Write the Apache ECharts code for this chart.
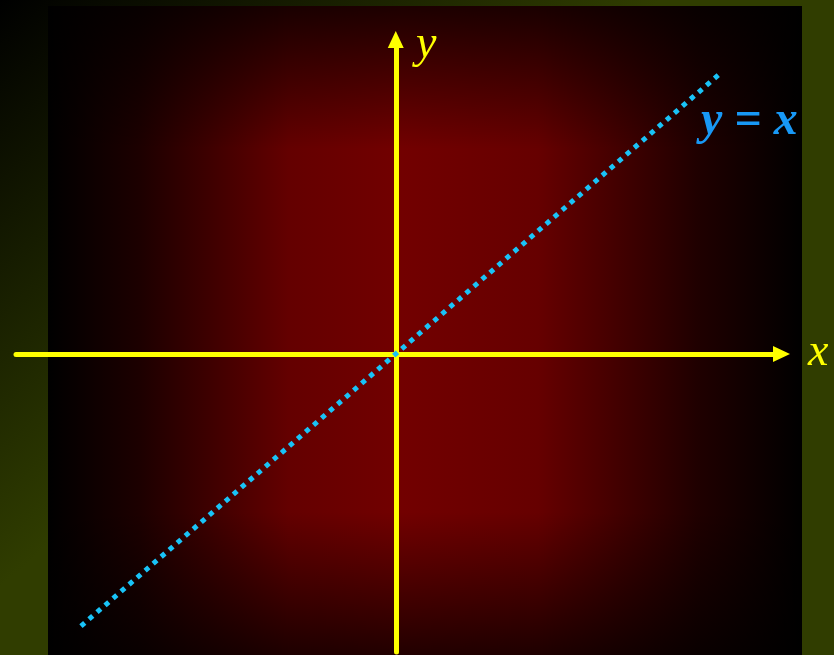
<!DOCTYPE html>
<html>
<head>
<meta charset="utf-8">
<script src="https://cdn.jsdelivr.net/npm/echarts@6/dist/echarts.min.js"></script>
<style>
  html, body { margin: 0; padding: 0; }
  #chart { width: 834px; height: 655px; }
</style>
</head>
<body>
<div id="chart"></div>
<script>
// axis ranges (units of the picture)
const xRange = [-3.8, 3.86];
const yRange = [-3.45, 3.64];
// the line y = x, drawn between two x values
const lineX = [-3.15, 3.25];
const lineY = [-3.15, 3.25];

(function() {
  let myChart = echarts.init(document.getElementById('chart'))
  let lineData = lineX.map((x, i) => [x, lineY[i]])
  let option = {
    backgroundColor: new echarts.graphic.LinearGradient(0, 0, 0.35, 0.5, [
      { offset: 0, color: '#000000' },
      { offset: 1, color: '#303d00' }
    ]),
    animation: false,
    graphic: [
      // dark red panel: horizontal glow
      {
        type: 'rect',
        z: -10,
        silent: true,
        shape: { x: 48, y: 6, width: 754, height: 649 },
        style: {
          fill: new echarts.graphic.LinearGradient(0, 0, 1, 0, [
            { offset: 0, color: '#000000' },
            { offset: 0.12, color: '#1c0000' },
            { offset: 0.32, color: '#640000' },
            { offset: 0.47, color: '#720000' },
            { offset: 0.65, color: '#660000' },
            { offset: 0.86, color: '#200000' },
            { offset: 1, color: '#000000' }
          ])
        }
      },
      // darken top and bottom
      {
        type: 'rect',
        z: -9,
        silent: true,
        shape: { x: 48, y: 6, width: 754, height: 649 },
        style: {
          fill: new echarts.graphic.LinearGradient(0, 0, 0, 1, [
            { offset: 0, color: 'rgba(0,0,0,0.75)' },
            { offset: 0.22, color: 'rgba(0,0,0,0)' },
            { offset: 0.78, color: 'rgba(0,0,0,0)' },
            { offset: 1, color: 'rgba(0,0,0,0.7)' }
          ])
        }
      },
      {
        type: 'text',
        left: 416, top: 22,
        style: { text: 'y', fill: '#ffff00', font: 'italic 46px "Liberation Serif", serif' }
      },
      {
        type: 'text',
        left: 808, top: 330,
        style: { text: 'x', fill: '#ffff00', font: 'italic 46px "Liberation Serif", serif' }
      },
      {
        type: 'text',
        left: 701, top: 98,
        style: { text: 'y = x', fill: '#1898f5', font: 'italic bold 48px "Liberation Serif", serif' }
      }
    ],
    grid: {
      left: 16,
      right: 52.5,
      top: 39.5,
      bottom: 3
    },
    xAxis: {
      type: 'value',
      min: xRange[0],
      max: xRange[1],
      axisLine: {
        onZero: true,
        symbol: ['none', 'triangle'],
        symbolSize: [16, 17],
        lineStyle: { color: '#ffff00', width: 5 }
      },
      axisTick: { show: false },
      axisLabel: { show: false },
      splitLine: { show: false }
    },
    yAxis: {
      type: 'value',
      min: yRange[0],
      max: yRange[1],
      axisLine: {
        show: true,
        onZero: true,
        symbol: ['none', 'triangle'],
        symbolSize: [16, 17],
        lineStyle: { color: '#ffff00', width: 5 }
      },
      axisTick: { show: false },
      axisLabel: { show: false },
      splitLine: { show: false }
    },
    series: [
      {
        type: 'line',
        data: lineData,
        showSymbol: false,
        z: 5,
        lineStyle: {
          color: '#19c3f7',
          width: 5,
          type: [5, 5.6]
        }
      }
    ]
  }
  myChart.setOption(option);
  window.addEventListener('resize', function() {
    myChart.resize()
  })
})();
</script>
</body>
</html>
